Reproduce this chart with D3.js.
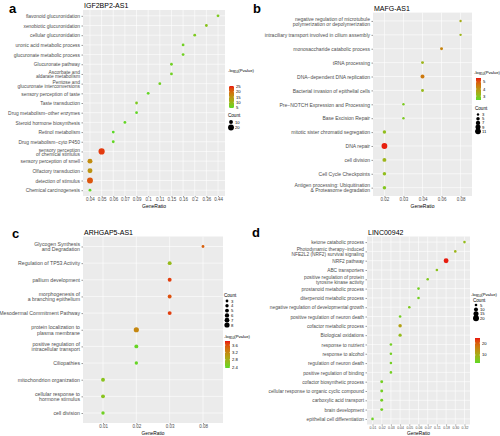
<!DOCTYPE html>
<html><head><meta charset="utf-8">
<script src="https://cdn.jsdelivr.net/npm/d3@7"></script>
<style>body{margin:0;background:#fff}svg{display:block;font-family:"Liberation Sans",Arial,sans-serif}</style>
</head><body><svg id="chart" width="500" height="436"></svg>
<script>
// ---------- Panel a : IGF2BP2-AS1 ----------
const aLevels = ["0.04","0.05","0.06","0.07","0.09","0.1","0.11","0.15","0.16","0.2","0.36","0.44"];
const aTerms = ["flavonoid glucuronidation","xenobiotic glucuronidation","cellular glucuronidation","uronic acid metabolic process","glucuronate metabolic process","Glucuronate pathway","Ascorbate and\naldarate metabolism","Pentose and\nglucuronate interconversions","sensory perception of taste","Taste transduction","Drug metabolism−other enzymes","Steroid hormone biosynthesis","Retinol metabolism","Drug metabolism−cyto P450","sensory perception\nof chemical stimulus","sensory perception of smell","Olfactory transduction","detection of stimulus","Chemical carcinogenesis"];
const aRatio = ["0.44","0.36","0.2","0.16","0.16","0.15","0.15","0.11","0.1","0.09","0.09","0.07","0.06","0.06","0.05","0.04","0.04","0.04","0.04"];
const aLogP = [7,8,7,6,6,6,6,6,5,7,5,5,4.5,5,24,16,15,22,5];
const aCount = [6,6,6,6,6,6,6,6,6,6,6,6,6,6,22,15,15,20,6];

// ---------- Panel b : MAFG-AS1 ----------
const bLevels = ["0.02","0.03","0.04","0.06","0.08"];
const bTerms = ["negative regulation of microtubule\npolymerization or depolymerization","intraciliary transport involved in cilium assembly","monosaccharide catabolic process","tRNA processing","DNA−dependent DNA replication","Bacterial invasion of epithelial cells","Pre−NOTCH Expression and Processing","Base Excision Repair","mitotic sister chromatid segregation","DNA repair","cell division","Cell Cycle Checkpoints","Antigen processing: Ubiquitination\n& Proteasome degradation"];
const bRatio = ["0.08","0.08","0.06","0.04","0.04","0.04","0.03","0.03","0.02","0.02","0.02","0.02","0.02"];
const bLogP = [3.5,3.3,4.3,3.3,4.5,3.2,2.8,2.8,3.1,5.5,3.3,3.1,2.9];
const bCount = [3,3,4,4,6,4,3,3,5,11,6,5,5];

// ---------- Panel c : ARHGAP5-AS1 ----------
const cLevels = ["0.01","0.02","0.03","0.08"];
const cTerms = ["Glycogen Synthesis\nand Degradation","Regulation of TP53 Activity","pallium development","morphogenesis of\na branching epithelium","Mesodermal Commitment Pathway","protein localization to\nplasma membrane","positive regulation of\nintracellular transport","Ciliopathies","mitochondrion organization","cellular response to\nhormone stimulus","cell division"];
const cRatio = ["0.08","0.03","0.03","0.03","0.03","0.02","0.02","0.02","0.01","0.01","0.01"];
const cLogP = [3.5,2.7,3.7,3.6,3.7,3.2,2.4,2.4,2.6,2.6,2.45];
const cCount = [3,5,5,5,5,8,5,4,5,5,4];

// ---------- Panel d : LINC00942 ----------
const dLevels = ["0.01","0.02","0.03","0.04","0.05","0.06","0.07","0.11","0.18","0.30","0.32"];
const dTerms = ["ketone catabolic process","Photodynamic therapy−induced\nNFE2L2 (NRF2) survival signaling","NRF2 pathway","ABC transporters","positive regulation of protein\ntyrosine kinase activity","prostanoid metabolic process","diterpenoid metabolic process","negative regulation of developmental growth","positive regulation of neuron death","cofactor metabolic process","Biological oxidations","response to nutrient","response to alcohol","regulation of neuron death","positive regulation of binding","cofactor biosynthetic process","cellular response to organic cyclic compound","carboxylic acid transport","brain development","epithelial cell differentiation"];
const dRatio = ["0.32","0.30","0.18","0.11","0.07","0.06","0.06","0.05","0.04","0.04","0.04","0.03","0.03","0.03","0.03","0.02","0.02","0.02","0.02","0.01"];
const dLogP = [8,9,24,7,6,5,5,6,5,12,8,5,5,5,5,5,5,5,5,4.5];
const dCount = [5,5,14,5,5,5,5,5,5,8,7,5,5,5,5,6,6,6,6,5];

const LOW = "#5ad926", HIGH = "#e8140f";
const svg = d3.select("#chart");

function panel(o){
  const g = svg.append("g");
  g.append("text").attr("x",o.lx).attr("y",o.ly).attr("font-size",13).attr("font-weight","bold").text(o.letter);
  const x = d3.scalePoint().domain(o.levels).range([o.x0,o.x1]).padding(0.6);
  const y = d3.scalePoint().domain(o.terms).range([o.y0,o.y1]).padding(0.6);
  g.append("rect").attr("x",o.x0).attr("y",o.y0).attr("width",o.x1-o.x0).attr("height",o.y1-o.y0).attr("fill","#ebebeb");
  g.selectAll(".vg").data(o.levels).join("line").attr("x1",d=>x(d)).attr("x2",d=>x(d)).attr("y1",o.y0).attr("y2",o.y1).attr("stroke","#fff").attr("stroke-width",0.6);
  g.selectAll(".hg").data(o.terms).join("line").attr("y1",d=>y(d)).attr("y2",d=>y(d)).attr("x1",o.x0).attr("x2",o.x1).attr("stroke","#fff").attr("stroke-width",0.6);
  g.append("text").attr("x",o.x0+1).attr("y",o.y0-2).attr("font-size",o.titleFs).attr("fill","#000").text(o.title);
  // axes
  const ax = g.append("g").attr("transform",`translate(0,${o.y1})`).call(d3.axisBottom(x).tickSize(1.2).tickPadding(0.6));
  ax.select(".domain").remove();
  ax.selectAll("line").attr("stroke","#333").attr("stroke-width",0.5);
  ax.selectAll("text").attr("font-size",o.xFs).attr("fill","#4d4d4d").attr("font-family","Liberation Sans, Arial, sans-serif");
  g.append("text").attr("x",(o.x0+o.x1)/2).attr("y",o.y1+o.xlabDy).attr("text-anchor","middle").attr("font-size",o.xlabFs).attr("fill","#000").text("GeneRatio");
  const ay = g.append("g").attr("transform",`translate(${o.x0},0)`).call(d3.axisLeft(y).tickSize(1.5).tickPadding(1.5));
  ay.select(".domain").remove();
  ay.selectAll("line").attr("stroke","#333").attr("stroke-width",0.5);
  const lh = o.lh;
  ay.selectAll("text").attr("font-size",o.yFs).attr("fill","#4d4d4d").attr("font-family","Liberation Sans, Arial, sans-serif").each(function(d){
    const lines = d.split("\n");
    const t = d3.select(this); t.text(null).attr("dy",null);
    const xx = t.attr("x");
    lines.forEach((l,i)=>{
      t.append("tspan").attr("x",xx).attr("dy",(i===0?(0.35-(lines.length-1)*lh/2):lh)+"em").text(l);
    });
  });
  // points
  const col = d3.scaleLinear().domain(o.cDomain).range([LOW,HIGH]).interpolate(d3.interpolateLab).clamp(true);
  const r = d3.scaleSqrt().domain(o.sDomain).range(o.rRange);
  const data = o.terms.map((t,i)=>({t, ratio:o.ratio[i], p:o.logp[i], c:o.count[i]}));
  g.selectAll(".pt").data(data).join("circle").attr("cx",d=>x(d.ratio)).attr("cy",d=>y(d.t)).attr("r",d=>r(d.c)).attr("fill",d=>col(d.p));
  // colour legend
  const L = o.cLeg;
  const tt = g.append("text").attr("x",L.tx).attr("y",L.ty).attr("font-size",4.2).attr("fill","#000");
  tt.append("tspan").text("-log");
  tt.append("tspan").attr("font-size",3).attr("dy",1).text("10");
  tt.append("tspan").attr("dy",-1).text("(Pvalue)");
  const gid = "grad"+o.letter;
  const grad = svg.append("defs").append("linearGradient").attr("id",gid).attr("x1",0).attr("x2",0).attr("y1",1).attr("y2",0);
  d3.range(0,1.01,0.1).forEach(f=>grad.append("stop").attr("offset",f).attr("stop-color",col(o.cDomain[0]+f*(o.cDomain[1]-o.cDomain[0]))));
  g.append("rect").attr("x",L.x).attr("y",L.top).attr("width",5).attr("height",L.bot-L.top).attr("fill",`url(#${gid})`);
  const cy = d3.scaleLinear().domain(o.cDomain).range([L.bot,L.top]);
  L.ticks.forEach(v=>{
    g.append("line").attr("x1",L.x).attr("x2",L.x+1).attr("y1",cy(v)).attr("y2",cy(v)).attr("stroke","#fff").attr("stroke-width",0.4);
    g.append("line").attr("x1",L.x+4).attr("x2",L.x+5).attr("y1",cy(v)).attr("y2",cy(v)).attr("stroke","#fff").attr("stroke-width",0.4);
    g.append("text").attr("x",L.x+7).attr("y",cy(v)+1.5).attr("font-size",4.2).attr("fill","#000").text(v);
  });
  // size legend
  const S = o.sLeg;
  g.append("text").attr("x",S.tx).attr("y",S.ty).attr("font-size",4.6).attr("fill","#000").text("Count");
  S.vals.forEach((v,i)=>{
    const yy = S.y0 + i*S.step;
    g.append("circle").attr("cx",S.x).attr("cy",yy).attr("r",r(v)).attr("fill","#000");
    g.append("text").attr("x",S.x+4).attr("y",yy+1.5).attr("font-size",4.2).attr("fill","#000").text(v);
  });
}

panel({letter:"a",lx:9,ly:13,title:"IGF2BP2-AS1",titleFs:7,x0:83,x1:225,y0:10,y1:196,lh:0.78,
  levels:aLevels,terms:aTerms,ratio:aRatio,logp:aLogP,count:aCount,yFs:4.9,xFs:4.5,xlabDy:12,xlabFs:5,
  cDomain:[4.5,25.5],sDomain:[6,22],rRange:[1.4,3.1],
  cLeg:{tx:228,ty:72,x:229,top:86,bot:108,ticks:[25,20,15,10,5]},
  sLeg:{tx:228,ty:117,x:231,y0:122,step:5.5,vals:[10,20]}});

panel({letter:"b",lx:253,ly:13,title:"MAFG-AS1",titleFs:7,x0:373,x1:472,y0:12.6,y1:196,lh:1.0,
  levels:bLevels,terms:bTerms,ratio:bRatio,logp:bLogP,count:bCount,yFs:5.0,xFs:4.5,xlabDy:12,xlabFs:5,
  cDomain:[2.45,5.55],sDomain:[3,11],rRange:[1.2,2.9],
  cLeg:{tx:474,ty:74,x:476,top:78,bot:100,ticks:[5,4,3]},
  sLeg:{tx:475,ty:110,x:478,y0:114.5,step:4.2,vals:[3,5,7,9,11]}});

panel({letter:"c",lx:12,ly:238,title:"ARHGAP5-AS1",titleFs:7,x0:83,x1:223,y0:236.5,y1:423,lh:1.0,
  levels:cLevels,terms:cTerms,ratio:cRatio,logp:cLogP,count:cCount,yFs:5.2,xFs:4.5,xlabDy:11.5,xlabFs:4.8,
  cDomain:[2.35,3.82],sDomain:[3,8],rRange:[1.4,2.6],
  cLeg:{tx:224,ty:338,x:225,top:341,bot:368,ticks:[3.6,3.2,2.8,2.4]},
  sLeg:{tx:224,ty:297,x:227,y0:301,step:4.8,vals:[3,4,5,6,7,8]}});

panel({letter:"d",lx:252,ly:237,title:"LINC00942",titleFs:7,x0:367,x1:470,y0:236.5,y1:424.5,lh:1.05,
  levels:dLevels,terms:dTerms,ratio:dRatio,logp:dLogP,count:dCount,yFs:4.8,xFs:3.5,xlabDy:10.5,xlabFs:4.8,
  cDomain:[3.3,24.2],sDomain:[5,20],rRange:[1.3,3.0],
  cLeg:{tx:471,ty:296,x:475,top:338,bot:363,ticks:[20,10]},
  sLeg:{tx:473,ty:301.5,x:476,y0:305,step:4.4,vals:[5,10,15,20]}});
</script></body></html>
